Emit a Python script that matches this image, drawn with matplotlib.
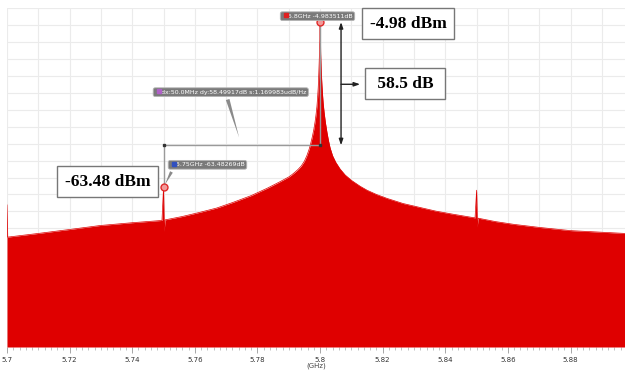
import matplotlib.pyplot as plt
from matplotlib.ticker import MultipleLocator

# spectrum envelope, frequency in GHz and level in dBm
freq_ghz = [
    5.7000, 5.7002, 5.7100, 5.7200, 5.7297, 5.7400, 5.7495,
    5.7500, 5.7502, 5.7505, 5.7560, 5.7617, 5.7670, 5.7722,
    5.7780, 5.7831, 5.7870, 5.7900, 5.7910, 5.7920, 5.7930,
    5.7940, 5.7950, 5.7958, 5.7965, 5.7970, 5.7975, 5.7980,
    5.7984, 5.7987, 5.7990, 5.7992, 5.7994, 5.7995, 5.7996,
    5.7997, 5.7998, 5.7999,
    5.8000,
    5.8001, 5.8002, 5.8003, 5.8004, 5.8006, 5.8008, 5.8010,
    5.8013, 5.8017, 5.8022, 5.8027, 5.8032, 5.8040, 5.8050,
    5.8064, 5.8080, 5.8100, 5.8128, 5.8150, 5.8180, 5.8214,
    5.8265, 5.8319, 5.8370, 5.8425, 5.8495, 5.8500, 5.8502,
    5.8505, 5.8560, 5.8620, 5.8703, 5.8800, 5.8974,
]
level_db = [
    -69.7, -81.1, -79.8, -78.4, -77.0, -76.0, -75.2,
    -63.48, -79.0, -75.0, -73.8, -72.3, -70.8, -68.8,
    -66.4, -63.8, -61.6, -59.8, -59.0, -58.1, -57.1,
    -55.9, -54.2, -52.2, -50.0, -48.0, -45.7, -43.0,
    -40.3, -37.8, -34.8, -31.8, -28.3, -25.8, -22.8,
    -19.6, -16.0, -11.5,
    -4.98,
    -11.5, -16.5, -20.0, -23.0, -27.3, -30.8, -33.8,
    -37.0, -40.5, -44.0, -47.0, -49.5, -52.3, -54.6,
    -57.0, -59.1, -61.0, -63.1, -64.5, -66.0, -67.4,
    -69.2, -70.6, -71.9, -73.0, -74.3, -64.5, -77.5,
    -74.4, -75.6, -76.6, -77.7, -78.8, -79.8,
]

# marker readouts
peak_f, peak_db = 5.8, -4.983511
spur_f, spur_db = 5.75, -63.48269
delta_db = -48.6

tick_pos = [5.70, 5.72, 5.74, 5.76, 5.78, 5.80, 5.82, 5.84, 5.86, 5.88]
tick_lbl = ['5.7', '5.72', '5.74', '5.76', '5.78', '5.8', '5.82', '5.84', '5.86', '5.88']

fig = plt.figure(figsize=(6.25, 3.72), dpi=100)
ax = fig.add_axes([7 / 625, 25 / 372, 618 / 625, 339 / 372])
ax.set_xlim(5.7, 5.8974)
ax.set_ylim(-120, 0)

# grid
ax.xaxis.set_major_locator(plt.FixedLocator(tick_pos))
ax.xaxis.set_minor_locator(MultipleLocator(0.002))
ax.set_yticks([])
for f in [5.70 + 0.01 * i for i in range(20)]:
    ax.axvline(f, color='#ebebeb', lw=0.8, zorder=0)
for d in range(-114, 1, 6):
    ax.axhline(d, color='#ebebeb', lw=0.8, zorder=0)

# spectrum
ax.fill_between(freq_ghz, level_db, -120, color='#df0000', lw=0, zorder=2)
ax.plot(freq_ghz, level_db, color='#df0000', lw=0.5, zorder=2)

for s in ax.spines.values():
    s.set_visible(False)
ax.set_xticklabels(tick_lbl)
ax.tick_params(axis='x', which='major', length=4, width=0.6, color='#999999',
               labelsize=5, labelcolor='#333333', pad=3)
ax.tick_params(axis='x', which='minor', length=2, width=0.5, color='#aaaaaa')
ax.set_xlabel('(GHz)', fontsize=5, color='#444444', labelpad=0)

# delta marker lines
ax.plot([peak_f, peak_f], [peak_db, delta_db], color='#9a9a9a', lw=1, zorder=3)
ax.plot([spur_f, spur_f], [delta_db, spur_db], color='#9a9a9a', lw=1, zorder=3)
ax.plot([spur_f, peak_f], [delta_db, delta_db], color='#9a9a9a', lw=1, zorder=3)
ax.plot([spur_f, peak_f], [delta_db, delta_db], 's', ms=2, color='#333333', zorder=4)

for f, d in [(peak_f, peak_db), (spur_f, spur_db)]:
    ax.plot(f, d, 'o', ms=5, mfc='#f29a9a', mec='#e02a2a', mew=1, zorder=5)

# marker readout labels
tag = dict(boxstyle='round,pad=0.3', fc='#7a7a7a', ec='#b5b5b5', lw=0.6)
ax.text(5.7879, -2.9, '   5.8GHz -4.983511dB', fontsize=4.5, color='white',
        va='center', ha='left', bbox=tag, zorder=6)
ax.plot(5.7890, -2.6, 's', ms=2.5, color='#e02020', zorder=7)

ax.annotate('   dx:50.0MHz dy:58.49917dB s:1.169983udB/Hz',
            xy=(5.7744, -46.8), xytext=(5.7473, -29.8),
            fontsize=4.5, color='white', va='center', ha='left', bbox=tag, zorder=6,
            arrowprops=dict(arrowstyle='wedge,tail_width=0.6,shrink_factor=0.5',
                            fc='#8a8a8a', ec='none', relpos=(0.47, 0.0)))
ax.plot(5.7484, -29.5, 's', ms=2.5, color='#b060c8', zorder=7)

ax.annotate('   5.75GHz -63.48269dB',
            xy=(spur_f, spur_db), xytext=(5.7521, -55.5),
            fontsize=4.5, color='white', va='center', ha='left', bbox=tag, zorder=6,
            arrowprops=dict(arrowstyle='wedge,tail_width=0.5,shrink_factor=0.5',
                            fc='#8a8a8a', ec='none', relpos=(0.05, 0.0)))
ax.plot(5.7532, -55.2, 's', ms=2.5, color='#3050c0', zorder=7)

# level annotations
ax.annotate('', xy=(5.8067, peak_db), xytext=(5.8067, delta_db),
            arrowprops=dict(arrowstyle='<|-|>,head_length=0.35,head_width=0.12',
                            color='#222222', lw=1, shrinkA=0, shrinkB=0), zorder=6)
ax.annotate('', xy=(5.8128, -27), xytext=(5.8067, -27),
            arrowprops=dict(arrowstyle='-|>,head_length=0.35,head_width=0.12',
                            color='#222222', lw=1, shrinkA=0, shrinkB=0), zorder=6)

box = dict(boxstyle='square,pad=0.42', fc='white', ec='#777777', lw=1)
serif = dict(fontfamily='Liberation Serif', fontweight='bold', fontsize=12.5,
             ha='center', va='center', bbox=box, zorder=6)
ax.text(5.8281, -5.5, f'{peak_db:.2f} dBm', **serif)
ax.text(5.8272, -26.8, f' {peak_db - spur_db:.1f} dB ', **serif)
ax.text(5.7321, -61.5, f'{spur_db:.2f} dBm', **serif)

fig.savefig('out.png', dpi=100)
